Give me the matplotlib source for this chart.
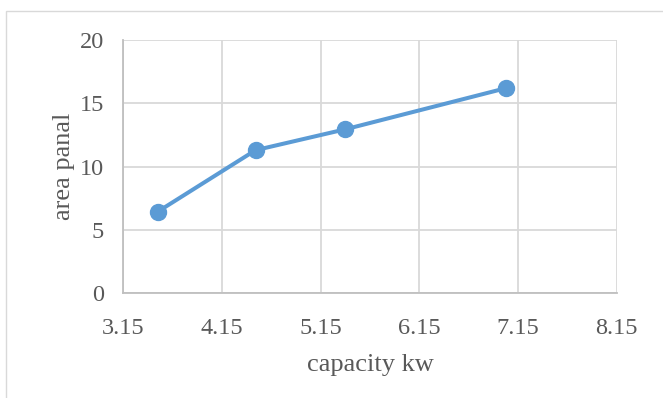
import matplotlib
matplotlib.use("Agg")
import matplotlib.pyplot as plt
from matplotlib.patches import Rectangle

capacity_kw = [3.50, 4.49, 5.40, 7.03]
area_panal = [6.45, 11.3, 12.95, 16.2]
x_ticks = [3.15, 4.15, 5.15, 6.15, 7.15, 8.15]
y_ticks = [0, 5, 10, 15, 20]

plt.rcParams['font.family'] = ['Liberation Serif', 'DejaVu Serif']
text_color = '#595959'
grid_color = '#D9D9D9'

fig = plt.figure(figsize=(6.63, 3.98), dpi=100)
fig.patches.append(Rectangle((6/663, -0.1), 1.2, 1 - 11/398 + 0.1, transform=fig.transFigure,
                             fill=False, edgecolor='#D9D9D9', linewidth=1.0))
ax = fig.add_axes([123.3/663, 1 - 293.3/398, (616.7-123.3)/663, (293.3-40)/398])

ax.plot(capacity_kw, area_panal, color='#5B9BD5', linewidth=2.9, marker='o',
        markersize=11.5, solid_capstyle='round', zorder=3)

ax.set_xlim(3.15, 8.15)
ax.set_ylim(0, 20)
ax.set_xticks(x_ticks)
ax.set_xticklabels([f"{v:.2f}" for v in x_ticks])
ax.set_yticks(y_ticks)
ax.grid(True, color=grid_color, linewidth=1.3)
ax.set_axisbelow(True)
for s in ['top', 'right']:
    ax.spines[s].set_visible(False)
for s in ['left', 'bottom']:
    ax.spines[s].set_color('#BFBFBF')
    ax.spines[s].set_linewidth(1.3)
ax.tick_params(axis='both', length=0, labelsize=17.5, colors=text_color)
ax.tick_params(axis='x', pad=17.5)
ax.tick_params(axis='y', pad=14)
ax.set_xlabel('capacity kw', fontsize=19, color=text_color, labelpad=11)
ax.set_ylabel('area panal', fontsize=19, color=text_color, labelpad=3.5)

fig.savefig('out.png', dpi=100)
